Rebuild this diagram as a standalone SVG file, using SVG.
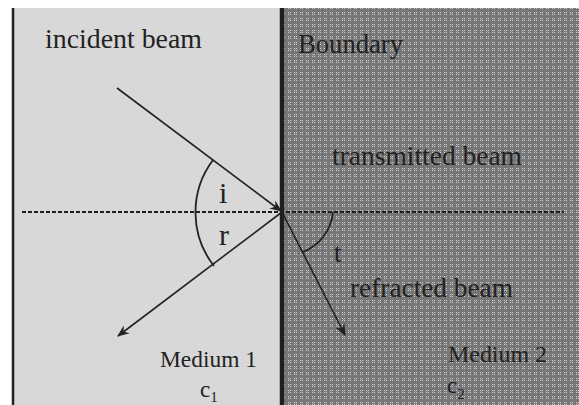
<svg xmlns="http://www.w3.org/2000/svg" width="579" height="405" viewBox="0 0 579 405">
<style>
text{font-family:"Liberation Serif","Times New Roman",serif;fill:#222}
.lbl{font-size:27px}
.ang{font-size:30px}
.med{font-size:23px}
.beam{stroke:#222;stroke-width:1.6;fill:none}
.arc{stroke:#222;stroke-width:1.8;fill:none}
</style>
<defs>
<pattern id="dots" x="0" y="0" width="6" height="6" patternUnits="userSpaceOnUse">
<rect width="6" height="6" fill="#777777"/>
<rect x="0" y="0" width="1" height="1" fill="#cfcfcf"/>
<rect x="2" y="0" width="1" height="1" fill="#cfcfcf"/>
<rect x="0" y="2" width="1" height="1" fill="#cfcfcf"/>
<rect x="2" y="2" width="1" height="1" fill="#cfcfcf"/>
<rect x="1" y="1" width="1" height="1" fill="#9a9a9a"/>
</pattern>
<marker id="arr" viewBox="0 0 12 10" refX="11" refY="5" markerWidth="12" markerHeight="10" markerUnits="userSpaceOnUse" orient="auto">
<path d="M0,0 L12,5 L0,10 L4,5 Z" fill="#222"/>
</marker>
</defs>
<rect width="579" height="405" fill="#ffffff"/>
<g id="medium1">
<rect x="13" y="8" width="268" height="397" fill="#d8d8d8"/>
<line x1="13" y1="8" x2="13" y2="405" stroke="#222" stroke-width="2.5"/>
<text class="med" x="160" y="367" textLength="97" lengthAdjust="spacingAndGlyphs">Medium 1</text>
<text class="med" x="200" y="397">c<tspan font-size="15" dy="5">1</tspan></text>
</g>
<g id="medium2">
<rect x="281" y="8" width="298" height="397" fill="url(#dots)"/>
<text class="med" x="448" y="362" textLength="99" lengthAdjust="spacingAndGlyphs">Medium 2</text>
<text class="med" x="447" y="393">c<tspan font-size="15" dy="6">2</tspan></text>
</g>
<g id="boundary">
<line x1="282" y1="8" x2="282" y2="405" stroke="#1e1e1e" stroke-width="4.5"/>
<text class="lbl" x="298" y="53" textLength="105" lengthAdjust="spacingAndGlyphs">Boundary</text>
</g>
<g id="normal">
<line x1="22" y1="212" x2="564" y2="212" stroke="#1e1e1e" stroke-width="2.2" stroke-dasharray="4,2"/>
</g>
<g id="connectors">
<line class="beam" x1="117" y1="88" x2="281" y2="211" marker-end="url(#arr)"/>
<line class="beam" x1="282" y1="212" x2="118" y2="336" marker-end="url(#arr)"/>
<line class="beam" x1="282" y1="212" x2="345" y2="335" marker-end="url(#arr)"/>
</g>
<g id="angles">
<path class="arc" d="M213,160 A87,87 0 0 0 214,266"/>
<path class="arc" d="M333,212 A48,48 0 0 1 303,252"/>
<text class="ang" x="219" y="203">i</text>
<text class="ang" x="219" y="245">r</text>
<text class="lbl" x="334" y="262">t</text>
</g>
<g id="labels">
<text class="lbl" x="45" y="48" textLength="157" lengthAdjust="spacingAndGlyphs">incident beam</text>
<text class="lbl" x="332" y="165" textLength="190" lengthAdjust="spacingAndGlyphs">transmitted beam</text>
<text class="lbl" x="350" y="297" textLength="163" lengthAdjust="spacingAndGlyphs">refracted beam</text>
</g>
</svg>
